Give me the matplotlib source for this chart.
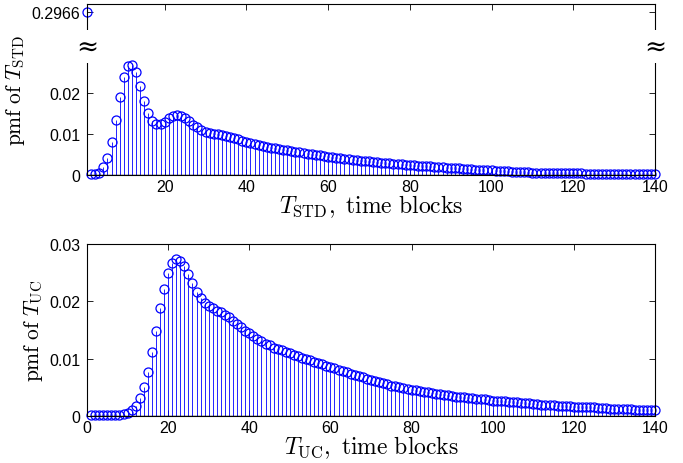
import numpy as np
import matplotlib
matplotlib.use('Agg')
import matplotlib.pyplot as plt
import matplotlib.transforms as mtransforms
from matplotlib.patches import Rectangle

plt.rcParams['font.family'] = ['Liberation Sans', 'DejaVu Sans']
plt.rcParams['mathtext.fontset'] = 'cm'

# pmf of T_STD, time blocks 1..140 (first value is off the scale)
t_std = [0.2966, 0.0003, 0.0003, 0.0006, 0.0019, 0.0042, 0.0080, 0.0134, 0.0190, 0.0238,
         0.0267, 0.0268, 0.0250, 0.0216, 0.0181, 0.0151, 0.0132, 0.0124, 0.0124, 0.0130,
         0.0138, 0.0144, 0.0146, 0.0145, 0.0139, 0.0131, 0.0123, 0.0116, 0.0110, 0.0106,
         0.0103, 0.0101, 0.0100, 0.0098, 0.0096, 0.0093, 0.0090, 0.0087, 0.0084, 0.0081,
         0.0078, 0.0075, 0.0073, 0.0071, 0.0069, 0.0067, 0.0065, 0.0063, 0.0061, 0.0060,
         0.0058, 0.0056, 0.0055, 0.0053, 0.0052, 0.0050, 0.0049, 0.0048, 0.0046, 0.0045,
         0.0044, 0.0042, 0.0041, 0.0040, 0.0039, 0.0037, 0.0036, 0.0035, 0.0034, 0.0033,
         0.0032, 0.0031, 0.0030, 0.0030, 0.0029, 0.0028, 0.0027, 0.0026, 0.0025, 0.0025,
         0.0024, 0.0023, 0.0022, 0.0022, 0.0021, 0.0020, 0.0019, 0.0019, 0.0018, 0.0017,
         0.0017, 0.0016, 0.0015, 0.0015, 0.0014, 0.0013, 0.0013, 0.0012, 0.0012, 0.0011,
         0.0010, 0.0010, 0.0009, 0.0009, 0.0008, 0.0008, 0.0007, 0.0007, 0.0007, 0.0006,
         0.0006, 0.0006, 0.0005, 0.0005, 0.0005, 0.0005, 0.0004, 0.0004, 0.0004, 0.0004,
         0.0004, 0.0004, 0.0003, 0.0003, 0.0003, 0.0003, 0.0003, 0.0003, 0.0003, 0.0003,
         0.0003, 0.0003, 0.0002, 0.0002, 0.0002, 0.0002, 0.0002, 0.0002, 0.0002, 0.0002]

# pmf of T_UC, time blocks 1..140
t_uc = [0.0001, 0.0001, 0.0001, 0.0001, 0.0001, 0.0002, 0.0002, 0.0002, 0.0003, 0.0005,
        0.0010, 0.0018, 0.0032, 0.0051, 0.0077, 0.0111, 0.0149, 0.0188, 0.0222, 0.0249,
        0.0266, 0.0274, 0.0271, 0.0261, 0.0247, 0.0232, 0.0216, 0.0205, 0.0197, 0.0191,
        0.0188, 0.0184, 0.0181, 0.0177, 0.0172, 0.0166, 0.0161, 0.0155, 0.0149, 0.0144,
        0.0139, 0.0134, 0.0130, 0.0126, 0.0123, 0.0119, 0.0117, 0.0115, 0.0112, 0.0110,
        0.0107, 0.0105, 0.0102, 0.0100, 0.0097, 0.0095, 0.0092, 0.0090, 0.0087, 0.0085,
        0.0083, 0.0081, 0.0078, 0.0076, 0.0074, 0.0072, 0.0070, 0.0068, 0.0065, 0.0063,
        0.0061, 0.0059, 0.0057, 0.0055, 0.0053, 0.0052, 0.0050, 0.0049, 0.0047, 0.0046,
        0.0045, 0.0044, 0.0042, 0.0041, 0.0040, 0.0039, 0.0038, 0.0037, 0.0036, 0.0035,
        0.0034, 0.0033, 0.0033, 0.0032, 0.0031, 0.0030, 0.0030, 0.0029, 0.0028, 0.0027,
        0.0027, 0.0026, 0.0026, 0.0025, 0.0024, 0.0024, 0.0023, 0.0023, 0.0022, 0.0021,
        0.0021, 0.0020, 0.0020, 0.0019, 0.0019, 0.0018, 0.0018, 0.0017, 0.0017, 0.0016,
        0.0016, 0.0016, 0.0015, 0.0015, 0.0015, 0.0014, 0.0014, 0.0014, 0.0013, 0.0013,
        0.0013, 0.0012, 0.0012, 0.0012, 0.0011, 0.0011, 0.0011, 0.0011, 0.0010, 0.0010]

blocks = np.arange(1, 141)
x_ticks = [20, 40, 60, 80, 100, 120, 140]
bot_xticks = [0, 20, 40, 60, 80, 100, 120, 140]
y_ticks = [0, 0.01, 0.02]
bot_yticks = [0, 0.01, 0.02, 0.03]

# broken axis: the big value is drawn at this height, gap between gap_lo and gap_hi
break_pos = 0.0398
gap_lo, gap_hi = 0.0272, 0.0353
top_ymax = 0.0417

blue = '#0000ff'


def draw_stem(ax, x, y):
    markers, stems, base = ax.stem(x, y, linefmt='-', markerfmt='o', basefmt='k-')
    stems.set_color(blue)
    stems.set_linewidth(0.6)
    markers.set_markerfacecolor('none')
    markers.set_markeredgecolor(blue)
    markers.set_markersize(6.5)
    markers.set_markeredgewidth(0.9)
    markers.set_clip_on(False)
    stems.set_clip_on(False)
    base.set_color('black')
    base.set_linewidth(1.0)
    return markers, stems


def style_axes(ax):
    ax.tick_params(direction='in', top=True, right=True, labelsize=11.5, length=4, width=0.6, pad=5)
    for s in ax.spines.values():
        s.set_linewidth(0.8)


fig = plt.figure(figsize=(6.83, 4.64), dpi=100)
ax1 = fig.add_axes([0.1274, 0.6207, 0.8316, 0.3685])
ax2 = fig.add_axes([0.1274, 0.1013, 0.8316, 0.3707])

# top panel
y_show = list(t_std)
y_show[0] = break_pos
draw_stem(ax1, blocks, y_show)
ax1.set_xlim(1, 140)
ax1.set_ylim(0, top_ymax)
ax1.set_xticks(x_ticks)
ax1.set_yticks(y_ticks + [break_pos])
ax1.set_yticklabels(['0', '0.01', '0.02', '%.4f' % t_std[0]])
ax1.get_yticklabels()[-1].set_fontsize(9)
style_axes(ax1)
ax1.tick_params(axis='x', pad=3)
ax1.set_xlabel(r'$T_{\mathrm{STD}}\mathrm{,\ time\ blocks}$', fontsize=17, labelpad=-1)
ax1.set_ylabel(r'$\mathrm{pmf\ of\ }T_{\mathrm{STD}}$', fontsize=15.5, labelpad=3)

trans = mtransforms.blended_transform_factory(ax1.transAxes, ax1.transData)
for xs in (0, 1):
    ax1.add_patch(Rectangle((xs - 0.012, gap_lo), 0.024, gap_hi - gap_lo, transform=trans,
                            facecolor='white', edgecolor='none', clip_on=False, zorder=10))
    ax1.text(xs, (gap_lo + gap_hi) / 2, '\u2248', transform=trans, ha='center', va='center',
             fontsize=19, family='DejaVu Serif', zorder=11)

# bottom panel
draw_stem(ax2, blocks, t_uc)
ax2.set_xlim(0, 140)
ax2.set_ylim(0, 0.03)
ax2.set_xticks(bot_xticks)
ax2.set_yticks(bot_yticks)
ax2.set_yticklabels(['0', '0.01', '0.02', '0.03'])
style_axes(ax2)
ax2.tick_params(axis='x', pad=3)
ax2.set_xlabel(r'$T_{\mathrm{UC}}\mathrm{,\ time\ blocks}$', fontsize=17, labelpad=-1)
ax2.set_ylabel(r'$\mathrm{pmf\ of\ }T_{\mathrm{UC}}$', fontsize=15.5, labelpad=3)

fig.savefig('out.png', dpi=100)
